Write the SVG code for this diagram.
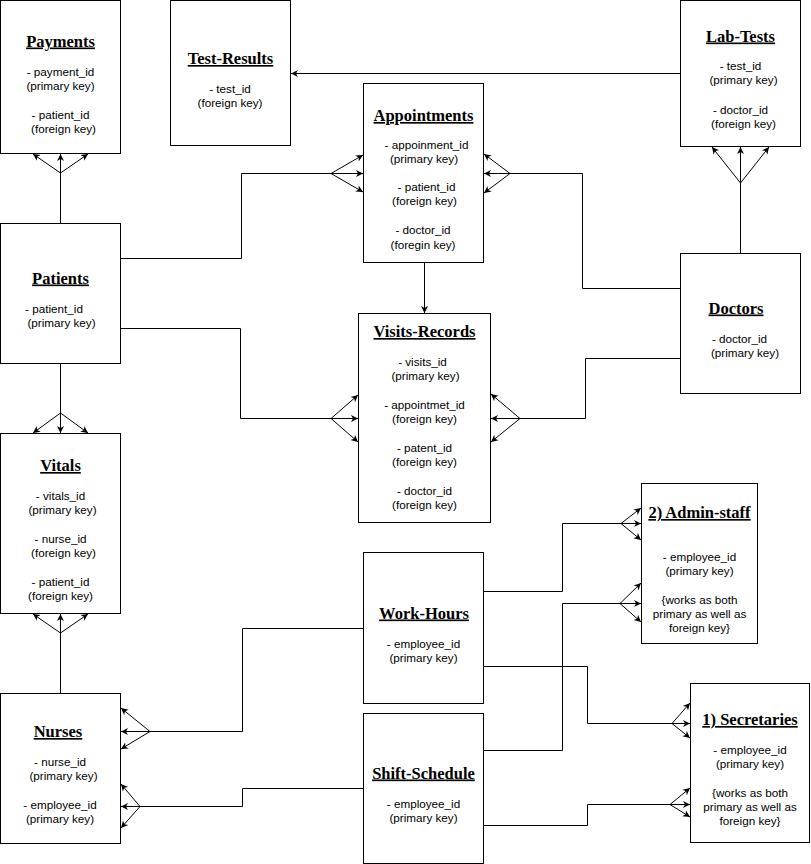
<svg xmlns="http://www.w3.org/2000/svg" width="811" height="864" viewBox="0 0 811 864">
<style>
.box{fill:#fff;stroke:#000;stroke-width:1}
.t{font-family:"Liberation Serif","Times New Roman",serif;font-weight:bold;font-size:16.5px;text-anchor:middle;text-decoration:underline;fill:#000}
.b{font-family:"Liberation Sans",Arial,sans-serif;font-size:11.7px;text-anchor:middle;fill:#000}
.c{fill:none;stroke:#000;stroke-width:1}
.a{fill:none;stroke:#000;stroke-width:1;marker-end:url(#arr)}
</style>
<defs>
<marker id="arr" markerUnits="userSpaceOnUse" markerWidth="9" markerHeight="9" refX="7" refY="4" orient="auto" viewBox="0 0 9 8">
<path d="M0,0.5 L7,4 L0,7.5 L2,4 Z" fill="#000"/>
</marker>
</defs>
<rect width="811" height="864" fill="#fff"/>
<g id="connectors">
<path class="a" d="M680,73.5 L291,73.5"/>
<path class="c" d="M740.5,253 L740.5,183"/>
<path class="a" d="M740.5,183 L712,147"/>
<path class="a" d="M740.5,183 L740.5,147"/>
<path class="a" d="M740.5,183 L769,147"/>
<path class="c" d="M60.5,223 L60.5,173"/>
<path class="a" d="M60.5,173 L33,154"/>
<path class="a" d="M60.5,173 L60.5,154"/>
<path class="a" d="M60.5,173 L88,154"/>
<path class="c" d="M120,258.5 L241.5,258.5 L241.5,173.5 L331,173.5"/>
<path class="a" d="M331,173.5 L363,155"/>
<path class="a" d="M331,173.5 L363,173.5"/>
<path class="a" d="M331,173.5 L363,192"/>
<path class="c" d="M680,288.5 L582.5,288.5 L582.5,173.5 L510,173.5"/>
<path class="a" d="M510,173.5 L484,154"/>
<path class="a" d="M510,173.5 L484,173.5"/>
<path class="a" d="M510,173.5 L484,193"/>
<path class="a" d="M424.5,263 L424.5,313"/>
<path class="c" d="M120,328.5 L240.5,328.5 L240.5,418.5 L331,418.5"/>
<path class="a" d="M331,418.5 L358,395"/>
<path class="a" d="M331,418.5 L358,418.5"/>
<path class="a" d="M331,418.5 L358,442"/>
<path class="c" d="M680,358.5 L585.5,358.5 L585.5,418.5 L520,418.5"/>
<path class="a" d="M520,418.5 L491,394"/>
<path class="a" d="M520,418.5 L491,418.5"/>
<path class="a" d="M520,418.5 L491,442"/>
<path class="c" d="M60.5,363 L60.5,413"/>
<path class="a" d="M60.5,413 L33,433"/>
<path class="a" d="M60.5,413 L60.5,433"/>
<path class="a" d="M60.5,413 L88,433"/>
<path class="c" d="M60.5,693 L60.5,633"/>
<path class="a" d="M60.5,633 L33,614"/>
<path class="a" d="M60.5,633 L60.5,614"/>
<path class="a" d="M60.5,633 L88,614"/>
<path class="c" d="M363,628.5 L242.5,628.5 L242.5,731.5 L150,731.5"/>
<path class="a" d="M150,731.5 L121,708"/>
<path class="a" d="M150,731.5 L121,731.5"/>
<path class="a" d="M150,731.5 L121,749"/>
<path class="c" d="M363,788.5 L242.5,788.5 L242.5,806.5 L140,806.5"/>
<path class="a" d="M140,806.5 L121,784"/>
<path class="a" d="M140,806.5 L121,806.5"/>
<path class="a" d="M140,806.5 L121,828"/>
<path class="c" d="M483,591.5 L562.5,591.5 L562.5,523.5 L621,523.5"/>
<path class="a" d="M621,523.5 L641,508"/>
<path class="a" d="M621,523.5 L641,523.5"/>
<path class="a" d="M621,523.5 L641,540"/>
<path class="c" d="M483,750.5 L562.5,750.5 L562.5,603.5 L620,603.5"/>
<path class="a" d="M620,603.5 L641,583"/>
<path class="a" d="M620,603.5 L641,603.5"/>
<path class="a" d="M620,603.5 L641,622"/>
<path class="c" d="M483,666.5 L587.5,666.5 L587.5,723.5 L672,723.5"/>
<path class="a" d="M672,723.5 L690,703"/>
<path class="a" d="M672,723.5 L690,723.5"/>
<path class="a" d="M672,723.5 L690,738"/>
<path class="c" d="M483,825.5 L587.5,825.5 L587.5,804.5 L670,804.5"/>
<path class="a" d="M670,804.5 L690,788"/>
<path class="a" d="M670,804.5 L690,804.5"/>
<path class="a" d="M670,804.5 L690,817"/>
</g>
<g id="payments">
<rect class="box" x="0.5" y="0.5" width="120" height="153"/>
<text class="t" x="60.5" y="46.5">Payments</text>
<text class="b" x="60.5" y="76">- payment_id</text>
<text class="b" x="60.5" y="90">(primary key)</text>
<text class="b" x="60.5" y="118.5">- patient_id</text>
<text class="b" x="63.5" y="132.5">(foreign key)</text>
</g>
<g id="test-results">
<rect class="box" x="170.5" y="0.5" width="120" height="145"/>
<text class="t" x="230.5" y="64">Test-Results</text>
<text class="b" x="230" y="93">- test_id</text>
<text class="b" x="230" y="107">(foreign key)</text>
</g>
<g id="lab-tests">
<rect class="box" x="680.5" y="0.5" width="120" height="146"/>
<text class="t" x="740.5" y="41.5">Lab-Tests</text>
<text class="b" x="740.5" y="70">- test_id</text>
<text class="b" x="743.5" y="84">(primary key)</text>
<text class="b" x="740.5" y="113.5">- doctor_id</text>
<text class="b" x="743.5" y="127.5">(foreign key)</text>
</g>
<g id="appointments">
<rect class="box" x="363.5" y="83.5" width="120" height="179"/>
<text class="t" x="423.5" y="121">Appointments</text>
<text class="b" x="426.5" y="148.5">- appoinment_id</text>
<text class="b" x="424" y="162.5">(primary key)</text>
<text class="b" x="426.5" y="191">- patient_id</text>
<text class="b" x="424.5" y="205">(foreign key)</text>
<text class="b" x="423" y="234">- doctor_id</text>
<text class="b" x="423" y="248.5">(foregin key)</text>
</g>
<g id="patients">
<rect class="box" x="0.5" y="223.5" width="120" height="140"/>
<text class="t" x="60.5" y="283.5">Patients</text>
<text class="b" x="54" y="312.5">- patient_id</text>
<text class="b" x="61.5" y="326.5">(primary key)</text>
</g>
<g id="doctors">
<rect class="box" x="680.5" y="253.5" width="120" height="140"/>
<text class="t" x="736" y="313.5">Doctors</text>
<text class="b" x="739.5" y="342.5">- doctor_id</text>
<text class="b" x="745" y="356.5">(primary key)</text>
</g>
<g id="visits-records">
<rect class="box" x="358.5" y="313.5" width="132" height="209"/>
<text class="t" x="424.5" y="337">Visits-Records</text>
<text class="b" x="422.5" y="366">- visits_id</text>
<text class="b" x="425.5" y="380">(primary key)</text>
<text class="b" x="424.5" y="409">- appointmet_id</text>
<text class="b" x="424.5" y="423">(foreign key)</text>
<text class="b" x="424.5" y="452">- patent_id</text>
<text class="b" x="424.5" y="466">(foreign key)</text>
<text class="b" x="424.5" y="495">- doctor_id</text>
<text class="b" x="424.5" y="509">(foreign key)</text>
</g>
<g id="vitals">
<rect class="box" x="0.5" y="433.5" width="120" height="180"/>
<text class="t" x="60.5" y="471">Vitals</text>
<text class="b" x="60.5" y="499.5">- vitals_id</text>
<text class="b" x="62.5" y="513.5">(primary key)</text>
<text class="b" x="60.5" y="543">- nurse_id</text>
<text class="b" x="63.5" y="557">(foreign key)</text>
<text class="b" x="60.5" y="586">- patient_id</text>
<text class="b" x="60.5" y="600">(foreign key)</text>
</g>
<g id="nurses">
<rect class="box" x="0.5" y="693.5" width="120" height="150"/>
<text class="t" x="58" y="737">Nurses</text>
<text class="b" x="60" y="766">- nurse_id</text>
<text class="b" x="63.5" y="780">(primary key)</text>
<text class="b" x="60" y="808.5">- employee_id</text>
<text class="b" x="60" y="822.5">(primary key)</text>
</g>
<g id="work-hours">
<rect class="box" x="363.5" y="552.5" width="120" height="151"/>
<text class="t" x="424" y="618.5">Work-Hours</text>
<text class="b" x="423.5" y="648">- employee_id</text>
<text class="b" x="423.5" y="662">(primary key)</text>
</g>
<g id="shift-schedule">
<rect class="box" x="363.5" y="713.5" width="120" height="150"/>
<text class="t" x="423.5" y="778.5">Shift-Schedule</text>
<text class="b" x="423.5" y="808">- employee_id</text>
<text class="b" x="423.5" y="822">(primary key)</text>
</g>
<g id="admin-staff">
<rect class="box" x="641.5" y="483.5" width="116" height="160"/>
<text class="t" x="699.5" y="518">2) Admin-staff</text>
<text class="b" x="699.5" y="561">- employee_id</text>
<text class="b" x="699.5" y="575">(primary key)</text>
<text class="b" x="699.5" y="603.5">{works as both</text>
<text class="b" x="699.5" y="618">primary as well as</text>
<text class="b" x="699.5" y="632">foreign key}</text>
</g>
<g id="secretaries">
<rect class="box" x="690.5" y="683.5" width="119" height="159"/>
<text class="t" x="750" y="725">1) Secretaries</text>
<text class="b" x="750" y="753.5">- employee_id</text>
<text class="b" x="750" y="767.5">(primary key)</text>
<text class="b" x="750" y="797">{works as both</text>
<text class="b" x="750" y="811">primary as well as</text>
<text class="b" x="750" y="825">foreign key}</text>
</g>
</svg>
